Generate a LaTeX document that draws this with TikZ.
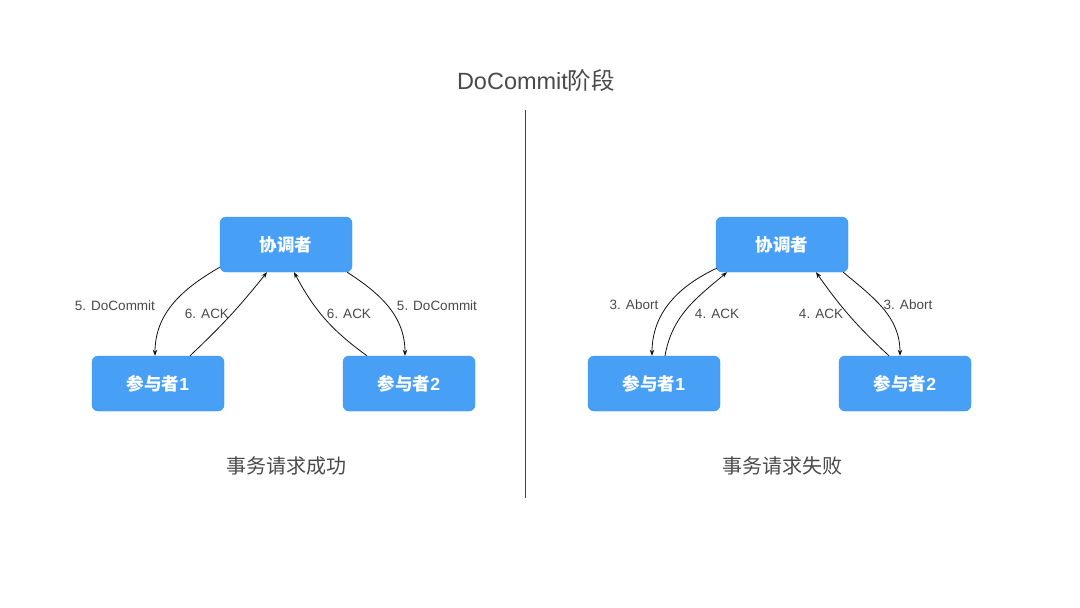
\documentclass[tikz,border=0pt]{standalone}
\usepackage{fontspec}
\setmainfont{Liberation Sans}
\newfontfamily\cjk{Noto Sans CJK SC}
\usetikzlibrary{arrows.meta,positioning,calc}
\definecolor{box1}{HTML}{47A0F6}
\definecolor{boxedge}{HTML}{3B92EC}
\definecolor{ink}{HTML}{111111}
\definecolor{muted}{HTML}{4A4A4A}

\tikzset{
  role/.style={draw=boxedge,fill=box1,rounded corners=6pt,minimum width=132pt,minimum height=55pt,
               text=white,font=\fontsize{17.5}{20}\selectfont\bfseries,inner sep=0pt},
  msg/.style={ink,line width=0.8pt,-{Stealth[length=6pt,width=4.5pt]}},
  lbl/.style={font=\fontsize{13.5}{15}\selectfont,color=muted,inner sep=0pt},
  caption/.style={font=\fontsize{20}{22}\selectfont\cjk,color=muted,inner sep=0pt}
}

\begin{document}
\begin{tikzpicture}[x=1pt,y=1pt]
  \useasboundingbox (0,0) rectangle (1080,-608);
  \fill[white] (0,0) rectangle (1080,-608);
  % title and divider
  \node[font=\fontsize{23.5}{26}\selectfont,color=muted] (title) at (536,-81) {DoCommit{\cjk 阶段}};
  \coordinate (divtop) at (525,-110);
  \coordinate (divbot) at (525,-498);
  \draw[ink!80,line width=1pt] (divtop) -- (divbot);
  % left: success
  \node[role] (coordL) at (286,-244.5) {{\cjk 协调者}};
  \node[role] (partLa) at (158,-383.5) {{\cjk 参与者}1};
  \node[role] (partLb) at (409,-383.5) {{\cjk 参与者}2};
  \draw[msg] ([xshift=0pt,yshift=5pt]coordL.south west) to[out=210,in=90] ([xshift=-3pt]partLa.north);
  \draw[msg] ([xshift=32pt]partLa.north) to[bend right=4] ([xshift=-19pt]coordL.south);
  \draw[msg] ([xshift=-42pt]partLb.north) to[bend left=13] ([xshift=8pt]coordL.south);
  \draw[msg] ([xshift=-5pt]coordL.south east) to[out=-33,in=90] ([xshift=-4pt]partLb.north);
  \node[lbl] (lblLa) at (115,-306) {5. DoCommit};
  \node[lbl] (lblLb) at (207,-314) {6. ACK};
  \node[lbl] (lblLc) at (349,-314) {6. ACK};
  \node[lbl] (lblLd) at (437,-306) {5. DoCommit};
  \node[caption] (capL) at (286,-466) {事务请求成功};
  % right: failure
  \node[role] (coordR) at (782,-244.5) {{\cjk 协调者}};
  \node[role] (partRa) at (654,-383.5) {{\cjk 参与者}1};
  \node[role] (partRb) at (905,-383.5) {{\cjk 参与者}2};
  \draw[msg] ([xshift=1pt,yshift=4pt]coordR.south west) to[out=205,in=90] ([xshift=-2pt]partRa.north);
  \draw[msg] ([xshift=11pt]partRa.north) to[out=80,in=220] ([xshift=-55pt]coordR.south);
  \draw[msg] ([xshift=-16pt]partRb.north) to[bend left=6] ([xshift=34pt]coordR.south);
  \draw[msg] ([xshift=-5pt]coordR.south east) to[out=-40,in=90] ([xshift=-5pt]partRb.north);
  \node[lbl] (lblRa) at (634,-305) {3. Abort};
  \node[lbl] (lblRb) at (717,-314) {4. ACK};
  \node[lbl] (lblRc) at (821,-314) {4. ACK};
  \node[lbl] (lblRd) at (908,-305) {3. Abort};
  \node[caption] (capR) at (782,-466) {事务请求失败};
\end{tikzpicture}
\end{document}
